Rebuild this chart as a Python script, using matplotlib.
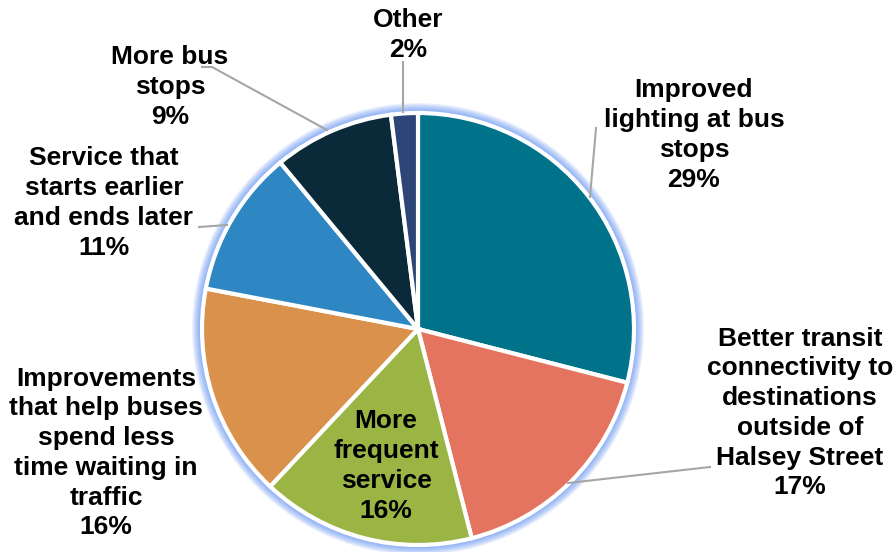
import matplotlib.pyplot as plt
from matplotlib.patches import Circle

labels = ["Improved\nlighting at bus\nstops", "Better transit\nconnectivity to\ndestinations\noutside of\nHalsey Street",
          "More\nfrequent\nservice", "Improvements\nthat help buses\nspend less\ntime waiting in\ntraffic",
          "Service that\nstarts earlier\nand ends later", "More bus\nstops", "Other"]
shares = [29, 17, 16, 16, 11, 9, 2]
colors = ["#00738A", "#E4745F", "#9BB544", "#D9914B", "#2E87C2", "#0A2A3A", "#2E4677"]

# label centres and leader lines, in pixel coords (y down)
label_pos = [(694, 135), (800, 413), (386, 466), (106, 453), (104, 203), (170, 87), (408, 35)]
leaders = [[(590, 197), (596, 128)], [(568, 483), (710, 467)], None, None,
           [(199, 227), (227, 225)], [(202, 67), (212, 67), (327, 130)], [(403, 62), (403, 112)]]

W, H = 895, 552
fig = plt.figure(figsize=(W / 100, H / 100), dpi=100)
ax = fig.add_axes([0, 0, 1, 1])

cx, cy, r = 418, 329, 216

# soft blue glow around the pie
for i in range(12):
    ax.add_patch(Circle((cx, cy), r + 10 - i, color="#4F86F2", alpha=0.1, lw=0, zorder=0))

# y axis is flipped, so counterclock=True draws clockwise on screen
ax.pie(shares, colors=colors, startangle=-90, counterclock=True,
       center=(cx, cy), radius=r, frame=True,
       wedgeprops=dict(edgecolor="white", linewidth=3))
ax.set_xlim(0, W)
ax.set_ylim(H, 0)
ax.set_aspect("equal")
ax.axis("off")

for lab, pct, (x, y), ld in zip(labels, shares, label_pos, leaders):
    ax.text(x, y, f"{lab}\n{pct}%", ha="center", va="center", fontsize=19,
            fontweight="bold", family="Liberation Sans", linespacing=1.3, zorder=5)
    if ld:
        xs, ys = zip(*ld)
        ax.plot(xs, ys, color="#A6A6A6", lw=1.5, zorder=4)

fig.savefig("out.png", dpi=100)
